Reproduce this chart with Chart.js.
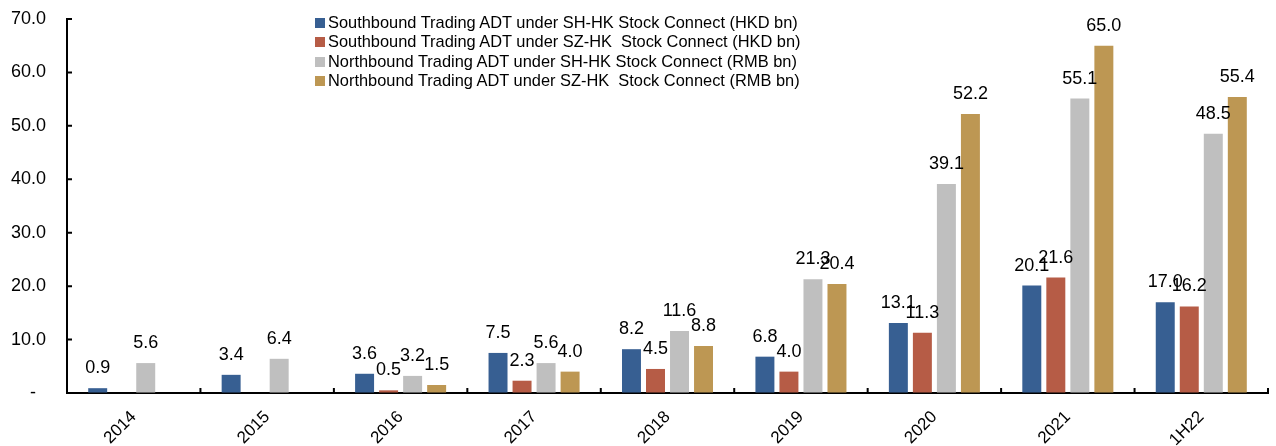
<!DOCTYPE html>
<html>
<head>
<meta charset="utf-8">
<script src="https://cdn.jsdelivr.net/npm/chart.js@4/dist/chart.umd.min.js"></script>
<style>
  html, body { margin: 0; padding: 0; background: #fff; }
  #wrap { position: relative; width: 1276px; height: 446px; }
  #legend {
    position: absolute; left: 315px; top: 13px;
    font-family: "Liberation Sans", Arial, sans-serif; font-size: 16.4px; color: #000;
    line-height: 19.3px; white-space: pre;
  }
  #legend .sw { display: inline-block; width: 10px; height: 10px; margin-right: 3px; }
</style>
</head>
<body>
<div id="wrap">
  <canvas id="tradeChart" width="1276" height="446"></canvas>
  <div id="legend"></div>
</div>
<script>
const categories = ["2014", "2015", "2016", "2017", "2018", "2019", "2020", "2021", "1H22"];

const southSH = [0.9, 3.4, 3.6, 7.5, 8.2, 6.8, 13.1, 20.1, 17.0];
const southSZ = [null, null, 0.5, 2.3, 4.5, 4.0, 11.3, 21.6, 16.2];
const northSH = [5.6, 6.4, 3.2, 5.6, 11.6, 21.3, 39.1, 55.1, 48.5];
const northSZ = [null, null, 1.5, 4.0, 8.8, 20.4, 52.2, 65.0, 55.4];

const seriesNames = [
  "Southbound Trading ADT under SH-HK Stock Connect (HKD bn)",
  "Southbound Trading ADT under SZ-HK  Stock Connect (HKD bn)",
  "Northbound Trading ADT under SH-HK Stock Connect (RMB bn)",
  "Northbound Trading ADT under SZ-HK  Stock Connect (RMB bn)"
];
const seriesColors = ["#375F92", "#B65C46", "#BFBFBF", "#BD9753"];

const yTicks = [0, 10, 20, 30, 40, 50, 60, 70];

const font = "Liberation Sans, Arial, sans-serif";

// value labels above each bar
const barLabels = {
  id: "barLabels",
  afterDatasetsDraw(chart) {
    const c = chart.ctx;
    c.save();
    c.font = "18px " + font;
    c.fillStyle = "#000";
    c.textAlign = "center";
    chart.data.datasets.forEach((ds, i) => {
      chart.getDatasetMeta(i).data.forEach((bar, j) => {
        const v = ds.data[j];
        if (v === null) return;
        c.fillText(v.toFixed(1), bar.x, bar.y - 15);
      });
    });
    c.restore();
  }
};

// small inward tick marks on both axes
const axisTicks = {
  id: "axisTicks",
  afterDraw(chart) {
    const c = chart.ctx;
    const x = chart.scales.x, y = chart.scales.y;
    c.save();
    c.strokeStyle = "#000";
    c.lineWidth = 2;
    c.beginPath();
    yTicks.forEach(t => {
      const py = y.getPixelForValue(t);
      c.moveTo(x.left, py);
      c.lineTo(x.left + 5, py);
    });
    const step = (x.right - x.left) / categories.length;
    for (let k = 1; k <= categories.length; k++) {
      const px = x.left + step * k;
      c.moveTo(px, y.bottom);
      c.lineTo(px, y.bottom - 5);
    }
    c.stroke();
    c.restore();
  }
};

const datasets = [southSH, southSZ, northSH, northSZ].map((d, i) => ({
  label: seriesNames[i],
  data: d,
  backgroundColor: seriesColors[i],
  borderWidth: 0,
  categoryPercentage: 0.72,
  barPercentage: 0.79
}));

new Chart(document.getElementById("tradeChart"), {
  type: "bar",
  data: { labels: categories, datasets: datasets },
  options: {
    responsive: false,
    animation: false,
    layout: { padding: { top: 19, right: 8, left: 0, bottom: 0 } },
    plugins: {
      legend: { display: false },
      tooltip: { enabled: false }
    },
    scales: {
      x: {
        grid: { display: false, drawTicks: false },
        border: { color: "#000", width: 2 },
        ticks: {
          color: "#000",
          font: { family: font, size: 17 },
          maxRotation: 45,
          minRotation: 45,
          padding: 14
        },
        afterFit(s) { s.height = 53; }
      },
      y: {
        min: 0,
        max: 70,
        // transparent tick marks just to push the labels away from the axis
        grid: { drawOnChartArea: false, drawTicks: true, tickLength: 21, tickColor: "rgba(0,0,0,0)" },
        border: { color: "#000", width: 2 },
        afterBuildTicks(s) { s.ticks = yTicks.map(v => ({ value: v })); },
        ticks: {
          color: "#000",
          font: { family: font, size: 18 },
          padding: 0,
          callback: v => v === 0 ? "-  " : v.toFixed(1)
        },
        afterFit(s) { s.width = 67; }
      }
    }
  },
  plugins: [barLabels, axisTicks]
});

// legend as html text
const legend = document.getElementById("legend");
legend.innerHTML = seriesNames.map((n, i) =>
  '<div><span class="sw" style="background:' + seriesColors[i] + '"></span>' + n + '</div>'
).join("");
</script>
</body>
</html>
